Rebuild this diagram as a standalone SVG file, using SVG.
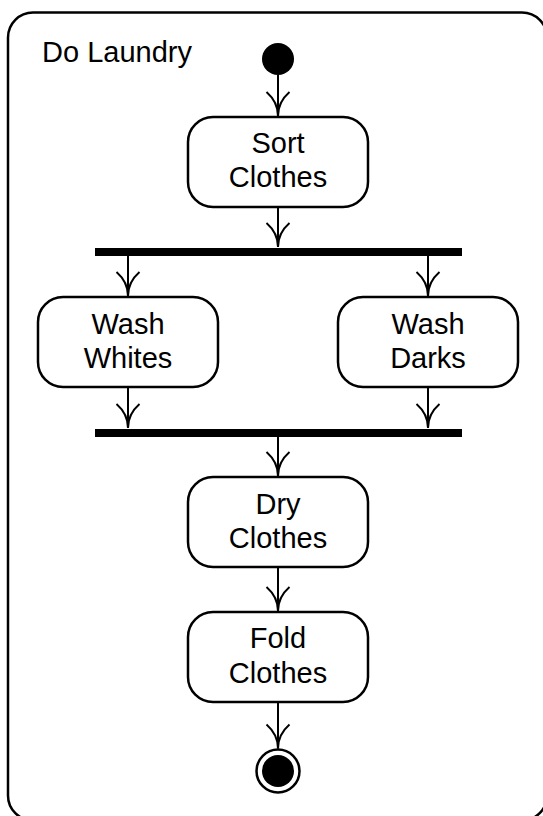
<svg xmlns="http://www.w3.org/2000/svg" width="543" height="816" viewBox="0 0 543 816">
  <style>
    .frame { fill: #ffffff; stroke: #000000; stroke-width: 2.5; }
    .action rect { fill: #ffffff; stroke: #000000; stroke-width: 2.5; }
    .label { font-family: "Liberation Sans", Arial, sans-serif; font-size: 29px; fill: #000000; }
    .action text { text-anchor: middle; }
    .bar { fill: #000000; }
    .edge { fill: none; stroke: #000000; stroke-width: 2; }
  </style>
  <defs>
    <!-- open, curved arrowhead; drawn pointing along +x, tip at (26,14) -->
    <marker id="open-arrow" markerUnits="userSpaceOnUse" markerWidth="30" markerHeight="30" refX="26" refY="14" orient="auto" overflow="visible">
      <path d="M2,2.5 Q12,14 26,14 M2,25.5 Q12,14 26,14" fill="none" stroke="#000000" stroke-width="2"/>
    </marker>
  </defs>

  <!-- activity frame -->
  <g id="activity-frame">
    <rect class="frame" x="8" y="12.5" width="539" height="808" rx="25" ry="25"/>
    <text class="label" x="42" y="62">Do Laundry</text>
  </g>

  <!-- connectors -->
  <g id="connectors">
    <path class="edge" d="M278,75 V116" marker-end="url(#open-arrow)"/>
    <path class="edge" d="M278,207 V247" marker-end="url(#open-arrow)"/>
    <path class="edge" d="M128,256 V296" marker-end="url(#open-arrow)"/>
    <path class="edge" d="M428,256 V296" marker-end="url(#open-arrow)"/>
    <path class="edge" d="M128,387 V428" marker-end="url(#open-arrow)"/>
    <path class="edge" d="M428,387 V428" marker-end="url(#open-arrow)"/>
    <path class="edge" d="M278,437 V476" marker-end="url(#open-arrow)"/>
    <path class="edge" d="M278,567 V611" marker-end="url(#open-arrow)"/>
    <path class="edge" d="M278,702 V748.5" marker-end="url(#open-arrow)"/>
  </g>

  <g id="initial">
    <circle cx="278" cy="59" r="16" fill="#000000"/>
  </g>

  <g id="sort-clothes" class="action">
    <rect x="188" y="117" width="180" height="90" rx="25" ry="25"/>
    <text class="label" x="278" y="153">Sort</text>
    <text class="label" x="278" y="187">Clothes</text>
  </g>

  <g id="fork">
    <rect class="bar" x="95" y="248" width="367" height="8"/>
  </g>

  <g id="wash-whites" class="action">
    <rect x="38" y="297" width="180" height="90" rx="25" ry="25"/>
    <text class="label" x="128" y="334">Wash</text>
    <text class="label" x="128" y="368">Whites</text>
  </g>

  <g id="wash-darks" class="action">
    <rect x="338" y="297" width="180" height="90" rx="25" ry="25"/>
    <text class="label" x="428" y="334">Wash</text>
    <text class="label" x="428" y="368">Darks</text>
  </g>

  <g id="join">
    <rect class="bar" x="95" y="429" width="367" height="8"/>
  </g>

  <g id="dry-clothes" class="action">
    <rect x="188" y="477" width="180" height="90" rx="25" ry="25"/>
    <text class="label" x="278" y="514">Dry</text>
    <text class="label" x="278" y="548">Clothes</text>
  </g>

  <g id="fold-clothes" class="action">
    <rect x="188" y="612" width="180" height="90" rx="25" ry="25"/>
    <text class="label" x="278" y="648">Fold</text>
    <text class="label" x="278" y="683">Clothes</text>
  </g>

  <g id="final">
    <circle cx="278" cy="771" r="21.5" fill="#ffffff" stroke="#000000" stroke-width="2.5"/>
    <circle cx="278" cy="771" r="16" fill="#000000"/>
  </g>
</svg>
